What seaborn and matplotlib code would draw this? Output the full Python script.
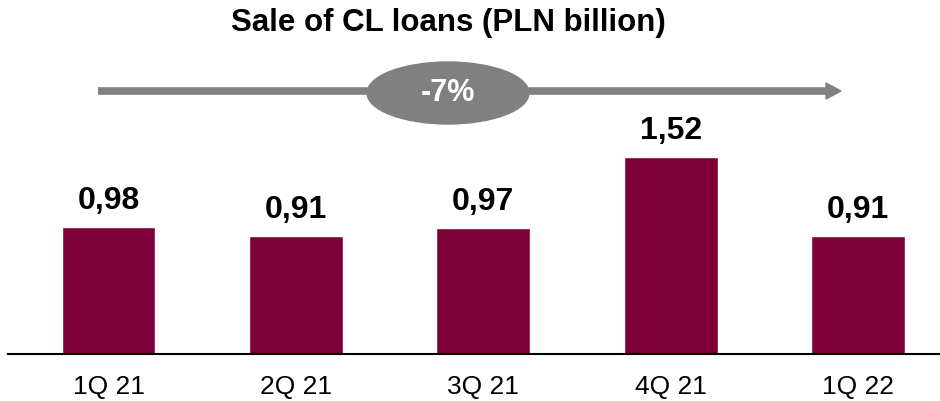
import matplotlib
matplotlib.use('Agg')
import matplotlib.pyplot as plt
from matplotlib.patches import Ellipse
import seaborn as sns
import pandas as pd

quarters = ['1Q 21', '2Q 21', '3Q 21', '4Q 21', '1Q 22']
sales = [0.98, 0.91, 0.97, 1.52, 0.91]
labels = ['0,98', '0,91', '0,97', '1,52', '0,91']
change = '-7%'

df = pd.DataFrame({'quarter': quarters, 'sales': sales})

sns.set_style('white')
plt.rcParams['font.family'] = ['Liberation Sans', 'DejaVu Sans']
plt.rcParams['text.color'] = 'black'
plt.rcParams['xtick.color'] = 'black'

fig = plt.figure(figsize=(9.4, 4.01), dpi=100)
ax = fig.add_axes([8 / 940, 47 / 401, 932 / 940, 354 / 401])

sns.barplot(data=df, x='quarter', y='sales', color='#7F0038',
            saturation=1, width=0.5, ax=ax)

ax.set_xlim(-0.536, 4.437)
ax.set_ylim(0, 354 / 129.6)

for i, (v, t) in enumerate(zip(sales, labels)):
    ax.annotate(t, (i, v), xytext=(0, 8), textcoords='offset points',
                ha='center', va='bottom', fontsize=23, fontweight='bold')

sns.despine(ax=ax, left=True, top=True, right=True)
ax.spines['bottom'].set_color('black')
ax.spines['bottom'].set_linewidth(1.5)
ax.set_yticks([])
ax.set_xlabel('')
ax.set_ylabel('')
ax.tick_params(axis='x', length=0, pad=15, labelsize=19)

# title
fig.text(448 / 940, 1 - 23 / 401, 'Sale of CL loans (PLN billion)',
         ha='center', va='center', fontsize=22.5, fontweight='bold')

# growth arrow with ellipse
ay = 1 - 91 / 401
fig.add_artist(plt.Line2D([98 / 940, 828 / 940], [ay, ay], color='#808080',
                          lw=5.5, solid_capstyle='butt',
                          transform=fig.transFigure))
fig.add_artist(plt.Polygon([[826 / 940, ay + 8 / 401], [841 / 940, ay],
                            [826 / 940, ay - 8 / 401]], closed=True,
                           color='#808080', transform=fig.transFigure))
fig.add_artist(Ellipse((448 / 940, 1 - 93 / 401), 162 / 940, 62 / 401,
                       color='#808080', transform=fig.transFigure))
fig.text(448 / 940, 1 - 93 / 401, change, ha='center', va='center',
         fontsize=22, fontweight='bold', color='white')

fig.savefig('out.png', dpi=100)
